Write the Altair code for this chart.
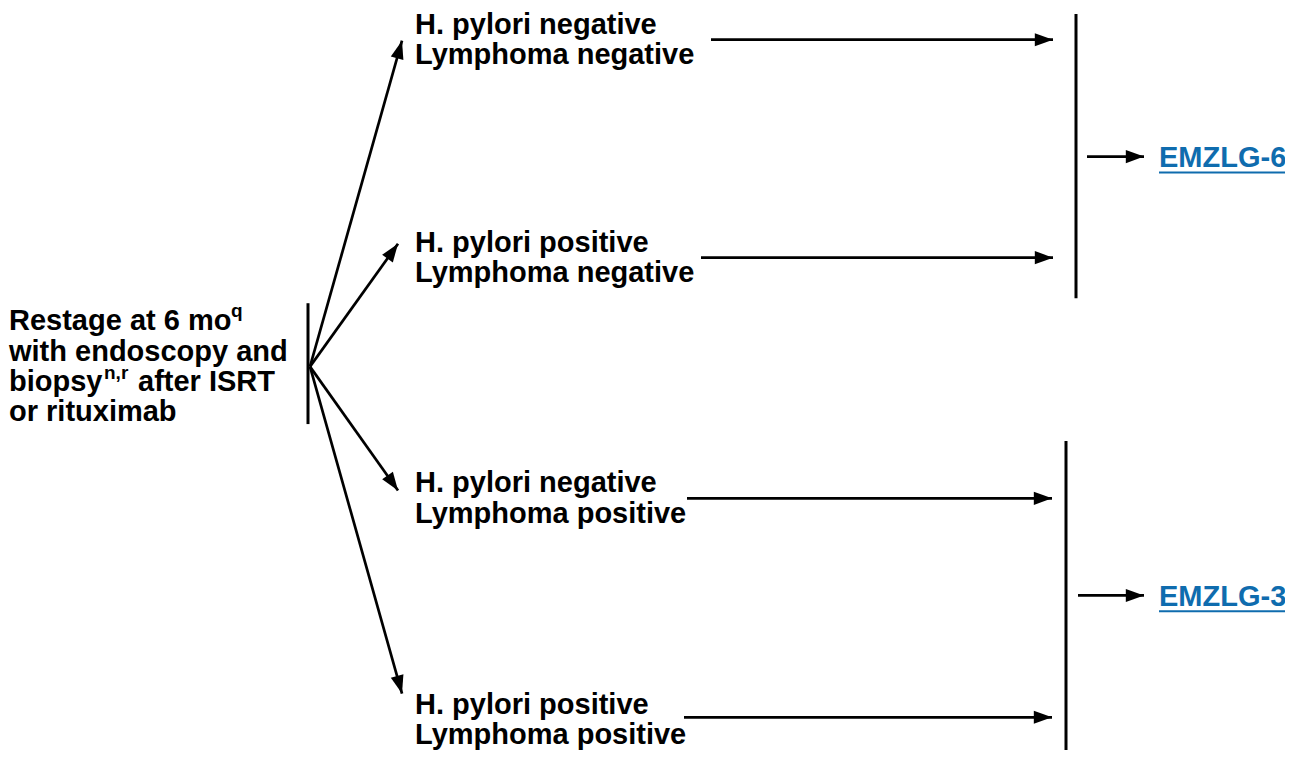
import math
import altair as alt
import pandas as pd

FONT = "Liberation Sans"
BLUE = "#0f6cae"
FS = 29

# ---- text content ----
left_text = ["Restage at 6 mo", "with endoscopy and", "biopsy", "after ISRT", "or rituximab"]
left_x = [15, 15, 15, 144, 15]
left_y = [335, 366, 397, 397, 427]

sup_text = ["q", "n,r"]
sup_x = [237, 110]
sup_y = [322, 385]

outcome_line1 = ["H. pylori negative", "H. pylori positive", "H. pylori negative", "H. pylori positive"]
outcome_line2 = ["Lymphoma negative", "Lymphoma negative", "Lymphoma positive", "Lymphoma positive"]
outcome_x = [421, 421, 421, 421]
outcome_y1 = [36, 256, 499, 723]
outcome_y2 = [67, 287, 530, 753]

link_text = ["EMZLG-6", "EMZLG-3"]
link_x = [1165, 1165]
link_y = [171, 614]
link_end = [1291, 1291]

# ---- connectors ----
fan_x, fan_y = 316, 372
fan_tip_x = [408, 404, 404, 408]
fan_tip_y = [43, 248, 497, 702]

h_start_x = [717, 707, 693, 690]
h_tip_x = [1059, 1059, 1058, 1058]
h_y = [42, 262, 505, 726]

bar_x = [314, 1082, 1072]
bar_y1 = [308, 16, 447]
bar_y2 = [430, 303, 759]

small_start_x = [1093, 1084]
small_tip_x = [1150, 1150]
small_y = [160, 603]

# ---- canvas (must stay inside the 1293x759 window with its 8px margin) ----
W, H = 1277, 742
xs = alt.Scale(domain=[14, 14 + W], range=[0, W], nice=False, zero=False)
ys = alt.Scale(domain=[10, 759], range=[0, H], nice=False, zero=False)
X = lambda f: alt.X(f"{f}:Q", scale=xs, axis=None)
Y = lambda f: alt.Y(f"{f}:Q", scale=ys, axis=None)

segs = []
for tx, ty in zip(fan_tip_x, fan_tip_y):
    segs.append({"x": fan_x, "y": fan_y, "x2": tx, "y2": ty})
for sx, tx, y in zip(h_start_x, h_tip_x, h_y):
    segs.append({"x": sx, "y": y, "x2": tx, "y2": y})
for sx, tx, y in zip(small_start_x, small_tip_x, small_y):
    segs.append({"x": sx, "y": y, "x2": tx, "y2": y})
segs_df = pd.DataFrame(segs)

heads_df = pd.DataFrame([
    {"x": s["x2"], "y": s["y2"],
     "angle": math.degrees(math.atan2(s["y2"] - s["y"], s["x2"] - s["x"])) % 360}
    for s in segs
])

bars_df = pd.DataFrame({"x": bar_x, "y": bar_y1, "x2": bar_x, "y2": bar_y2})

texts_df = pd.DataFrame(
    [{"x": x, "y": y, "t": t} for t, x, y in zip(left_text, left_x, left_y)]
    + [{"x": x, "y": y, "t": t} for t, x, y in zip(outcome_line1, outcome_x, outcome_y1)]
    + [{"x": x, "y": y, "t": t} for t, x, y in zip(outcome_line2, outcome_x, outcome_y2)]
)
sup_df = pd.DataFrame({"x": sup_x, "y": sup_y, "t": sup_text})
link_df = pd.DataFrame({"x": link_x, "y": link_y, "t": link_text})
uline_df = pd.DataFrame({"x": link_x, "x2": link_end, "y": [v + 5 for v in link_y]})

ARROW = "M0,0L-2,-0.72L-2,0.72Z"

lines = alt.Chart(segs_df).mark_rule(color="black", strokeWidth=2.7, strokeCap="butt").encode(
    x=X("x"), y=Y("y"), x2="x2:Q", y2="y2:Q")
bars = alt.Chart(bars_df).mark_rule(color="black", strokeWidth=3, strokeCap="butt").encode(
    x=X("x"), y=Y("y"), x2="x2:Q", y2="y2:Q")
heads = alt.Chart(heads_df).mark_point(shape=ARROW, filled=True, size=330, color="black",
                                      opacity=1, strokeWidth=0).encode(
    x=X("x"), y=Y("y"), angle=alt.Angle("angle:Q", scale=None))
texts = alt.Chart(texts_df).mark_text(align="left", baseline="alphabetic", font=FONT,
                                      fontSize=FS, fontWeight="bold", color="black").encode(
    x=X("x"), y=Y("y"), text="t:N")
sups = alt.Chart(sup_df).mark_text(align="left", baseline="alphabetic", font=FONT,
                                   fontSize=19, fontWeight="bold", color="black").encode(
    x=X("x"), y=Y("y"), text="t:N")
links = alt.Chart(link_df).mark_text(align="left", baseline="alphabetic", font=FONT,
                                     fontSize=FS, fontWeight="bold", color=BLUE).encode(
    x=X("x"), y=Y("y"), text="t:N")
ulines = alt.Chart(uline_df).mark_rule(color=BLUE, strokeWidth=2).encode(
    x=X("x"), x2="x2:Q", y=Y("y"))

chart = alt.layer(bars, lines, heads, texts, sups, links, ulines).properties(
    width=W, height=H, padding=0,
    autosize=alt.AutoSizeParams(type="none"),
).configure_view(stroke=None)

chart.save("out.html", embed_options={"renderer": "svg", "actions": False})
